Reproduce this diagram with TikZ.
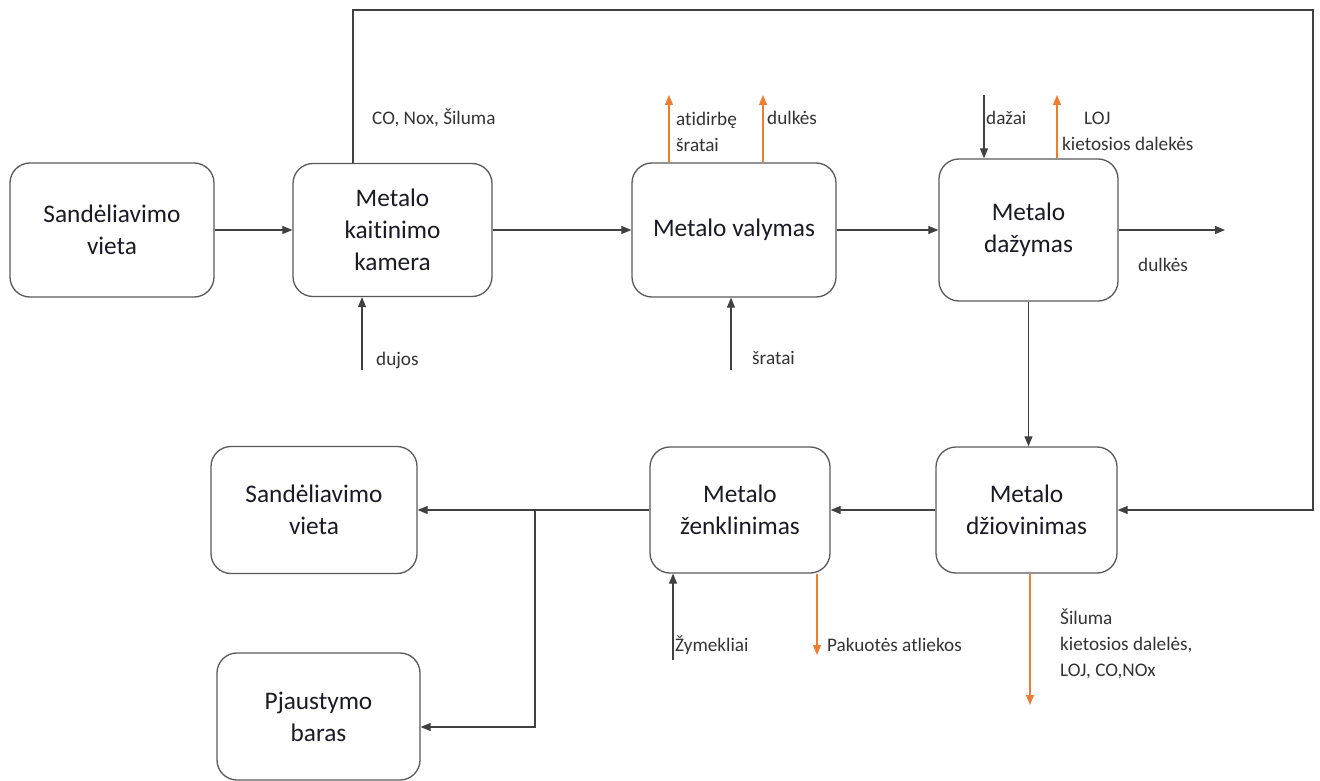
\documentclass[tikz,border=0pt]{standalone}
\usepackage{fontspec}
\setmainfont[Ligatures=NoCommon]{Carlito}
\usetikzlibrary{arrows.meta}
\definecolor{linegray}{HTML}{404040}
\definecolor{boxgray}{HTML}{595959}
\definecolor{orng}{HTML}{ED7D31}
\definecolor{txtgray}{HTML}{333333}
\definecolor{boxtxt}{HTML}{1A1A26}
\begin{document}
\begin{tikzpicture}[x=1pt,y=-1pt,
  box/.style={draw=boxgray, line width=1.3pt, rounded corners=20pt, align=center,
    font=\fontsize{25.3}{32}\selectfont, text=boxtxt, inner sep=0pt},
  arr/.style={draw=linegray, line width=1.1pt, -{Triangle[length=10pt,width=8pt]}},
  oarr/.style={draw=orng, line width=1.1pt, -{Triangle[length=10pt,width=8pt]}},
  ln/.style={draw=linegray, line width=1.1pt},
  lbl/.style={font=\fontsize{19.2}{26}\selectfont, text=txtgray, inner sep=0pt, align=left, anchor=west}]
\useasboundingbox (0,0) rectangle (1320,781);
% boxes
\node[box, minimum width=204pt, minimum height=134pt] (s1) at (112,230) {Sandėliavimo\\vieta};
\node[box, minimum width=199pt, minimum height=133pt] (k) at (392.5,230) {Metalo\\kaitinimo\\kamera};
\node[box, minimum width=204pt, minimum height=134pt] (v) at (734,230) {Metalo valymas};
\node[box, minimum width=179pt, minimum height=142pt] (d) at (1028.5,230) {Metalo\\dažymas};
\node[box, minimum width=181pt, minimum height=126pt] (dz) at (1026.5,510) {Metalo\\džiovinimas};
\node[box, minimum width=180pt, minimum height=126pt] (z) at (740,510) {Metalo\\ženklinimas};
\node[box, minimum width=206pt, minimum height=127pt] (s2) at (314,510) {Sandėliavimo\\vieta};
\node[box, minimum width=203pt, minimum height=127pt] (p) at (318.5,716.5) {Pjaustymo\\baras};
% main flow
\draw[arr] (s1) -- (k);
\draw[arr] (k) -- (v);
\draw[arr] (v) -- (d);
\coordinate (dout) at (1225,230);
\draw[arr] (d) -- (dout);
\draw[arr] (d.south) -- (d.south |- dz.north);
\draw[arr] (dz) -- (z);
\draw[arr] (z) -- (s2);
\coordinate (br) at (535,510);
\draw[arr] (br) |- (p.east |- 0,727);
% feedback loop
\coordinate (f1) at (353,10);
\coordinate (f2) at (1313,10);
\draw[arr] (k.north -| f1) -- (f1) -- (f2) |- (dz.east);
% inputs
\coordinate (in1) at (362,370);
\draw[arr] (in1) -- (k.south -| in1);
\coordinate (in2) at (731,370);
\draw[arr] (in2) -- (v.south -| in2);
\coordinate (in3) at (984,95);
\draw[arr] (in3) -- (d.north -| in3);
\coordinate (in4) at (673,660);
\draw[arr] (in4) -- (z.south -| in4);
% outputs (orange)
\coordinate (o1) at (669,95);
\draw[oarr] (v.north -| o1) -- (o1);
\coordinate (o2) at (763,95);
\draw[oarr] (v.north -| o2) -- (o2);
\coordinate (o3) at (1057,95);
\draw[oarr] (d.north -| o3) -- (o3);
\coordinate (o4) at (817,655);
\draw[oarr] (z.south -| o4) -- (o4);
\coordinate (o5) at (1030,705);
\draw[oarr] (dz.south -| o5) -- (o5);
% labels
\node[lbl] (l1) at (372,118) {CO, Nox, Šiluma};
\node[lbl] (l2) at (376,360) {dujos};
\node[lbl] (l3) at (752,358) {šratai};
\node[lbl] (l4) at (676,131.5) {atidirbę\\šratai};
\node[lbl] (l5) at (767,118) {dulkės};
\node[lbl] (l6) at (986,118) {dažai};
\node[lbl] (l7) at (1062,131.5) {\hspace*{22pt}LOJ\\kietosios dalekės};
\node[lbl] (l8) at (1138,265) {dulkės};
\node[lbl] (l9) at (675,645) {Žymekliai};
\node[lbl] (l10) at (827,645) {Pakuotės atliekos};
\node[lbl] (l11) at (1060,644) {Šiluma\\kietosios dalelės,\\LOJ, CO,NOx};
\end{tikzpicture}
\end{document}
